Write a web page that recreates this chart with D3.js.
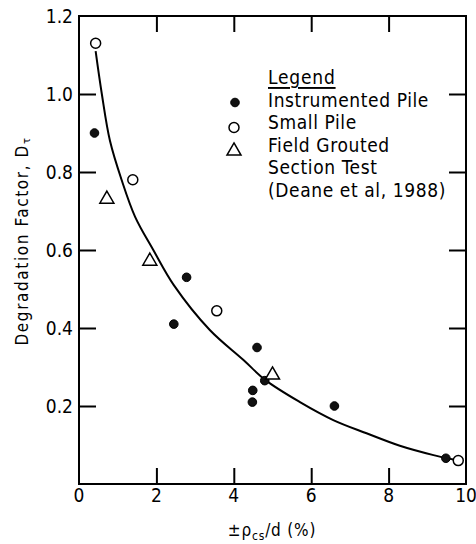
<!DOCTYPE html>
<html><head><meta charset="utf-8">
<script src="https://cdn.jsdelivr.net/npm/d3@7"></script>
<style>
html,body{margin:0;padding:0;background:#fff;}
text{font-family:"DejaVu Sans Condensed","DejaVu Sans","Liberation Sans Narrow",sans-serif;fill:#000;}
</style></head>
<body><svg id="c" width="476" height="544"></svg>
<script>
// Data
const instrumentedPile = [[0.40,0.90],[2.78,0.53],[2.45,0.41],[4.60,0.35],[4.80,0.265],[4.49,0.24],[4.48,0.21],[6.60,0.20],[9.48,0.066]];
const smallPile = [[0.43,1.13],[1.39,0.78],[3.56,0.444],[9.80,0.06]];
const fieldGrouted = [[0.72,0.733],[1.83,0.574],[5.00,0.282]];
const fitCurve = [[0.43,1.11],[0.59,1.0],[0.80,0.88],[1.10,0.78],[1.45,0.685],[1.92,0.60],[2.45,0.51],[3.38,0.395],[4.25,0.318],[4.81,0.267],[5.71,0.21],[6.57,0.164],[7.43,0.13],[8.29,0.098],[9.16,0.074],[9.70,0.062]];
const xTicks = [0,2,4,6,8,10];
const yTicks = [0.2,0.4,0.6,0.8,1.0,1.2];
const legendLabels = ["Instrumented Pile","Small Pile","Field Grouted","Section Test","(Deane et al, 1988)"];

const svg = d3.select("#c");
const L=79,R=466,T=16,B=484;
const x = d3.scaleLinear().domain([0,10]).range([L,R]);
const y = d3.scaleLinear().domain([0,1.2]).range([B,T]);

// frame
svg.append("path").attr("d",`M${L},${T}H${R}V${B}H${L}Z`)
  .attr("fill","none").attr("stroke","#000").attr("stroke-width",2);

// tick labels
svg.append("g").selectAll("text").data(xTicks).join("text")
  .attr("x",d=>x(d)).attr("y",B+11).attr("text-anchor","middle").attr("dominant-baseline","central")
  .attr("font-size",19).text(d=>d);
svg.append("g").selectAll("text").data(yTicks).join("text")
  .attr("x",L-6).attr("y",d=>y(d)).attr("text-anchor","end").attr("dominant-baseline","central")
  .attr("font-size",19).text(d=>d.toFixed(1));

// axis titles
const yt = svg.append("text").attr("transform","translate(22,241) rotate(-90)")
  .attr("text-anchor","middle").attr("dominant-baseline","central").attr("font-size",17)
  .attr("letter-spacing",1.6);
yt.append("tspan").text("Degradation Factor, D");
yt.append("tspan").attr("font-size",11).attr("dy",4).text("τ");
const xt = svg.append("text").attr("x",272).attr("y",536).attr("text-anchor","middle").attr("font-size",17)
  .attr("letter-spacing",0.8);
xt.append("tspan").text("±ρ");
xt.append("tspan").attr("font-size",12).attr("dy",4).text("cs");
xt.append("tspan").attr("dy",-4).text("/d (%)");

// curve
svg.append("path").datum(fitCurve).attr("fill","none").attr("stroke","#000").attr("stroke-width",2)
  .attr("d",d3.line().x(d=>x(d[0])).y(d=>y(d[1])).curve(d3.curveCatmullRom));

// markers
const tri = d3.symbol().type(d3.symbolTriangle).size(85);
svg.append("g").selectAll("circle").data(instrumentedPile).join("circle")
  .attr("cx",d=>x(d[0])).attr("cy",d=>y(d[1])).attr("r",4.3).attr("fill","#111").attr("stroke","#000").attr("stroke-width",1);
svg.append("g").selectAll("circle").data(smallPile).join("circle")
  .attr("cx",d=>x(d[0])).attr("cy",d=>y(d[1])).attr("r",5).attr("fill","#fff").attr("stroke","#000").attr("stroke-width",1.5);
svg.append("g").selectAll("path").data(fieldGrouted).join("path")
  .attr("transform",d=>`translate(${x(d[0])},${y(d[1])+1})`).attr("d",tri)
  .attr("fill","#fff").attr("stroke","#000").attr("stroke-width",1.5);

// legend
const lx=268, ly0=77, dy=22.5;
svg.append("text").attr("x",lx).attr("y",ly0).attr("dominant-baseline","central").attr("font-size",19)
  .attr("letter-spacing",0.8).attr("text-decoration","underline").text("Legend");
svg.append("g").selectAll("text").data(legendLabels).join("text")
  .attr("x",lx).attr("y",(d,i)=>ly0+dy*(i+1)).attr("dominant-baseline","central").attr("font-size",19)
  .attr("letter-spacing",0.6).text(d=>d);
svg.append("circle").attr("cx",235).attr("cy",102.5).attr("r",4.3).attr("fill","#111").attr("stroke","#000");
svg.append("circle").attr("cx",234).attr("cy",127.5).attr("r",5).attr("fill","#fff").attr("stroke","#000").attr("stroke-width",1.5);
svg.append("path").attr("transform","translate(234,151)").attr("d",tri).attr("fill","#fff").attr("stroke","#000").attr("stroke-width",1.5);

// inward ticks via d3 axes, drawn last
const tl=16;
function styleTicks(g){ g.select(".domain").remove(); g.selectAll(".tick text").remove();
  g.selectAll(".tick line").attr("stroke","#000").attr("stroke-width",2); }
svg.append("g").attr("transform",`translate(0,${B})`)
  .call(d3.axisBottom(x).tickValues([2,4,6,8]).tickSizeInner(-tl).tickSizeOuter(0)).call(styleTicks);
svg.append("g").attr("transform",`translate(0,${T})`)
  .call(d3.axisTop(x).tickValues([2,4,6,8]).tickSizeInner(-tl).tickSizeOuter(0)).call(styleTicks);
svg.append("g").attr("transform",`translate(${L},0)`)
  .call(d3.axisLeft(y).tickValues([0.2,0.4,0.6,0.8,1.0]).tickSizeInner(-17).tickSizeOuter(0)).call(styleTicks);
svg.append("g").attr("transform",`translate(${R},0)`)
  .call(d3.axisRight(y).tickValues([0.2,0.4,0.6,0.8,1.0]).tickSizeInner(-17).tickSizeOuter(0)).call(styleTicks);
</script></body></html>
